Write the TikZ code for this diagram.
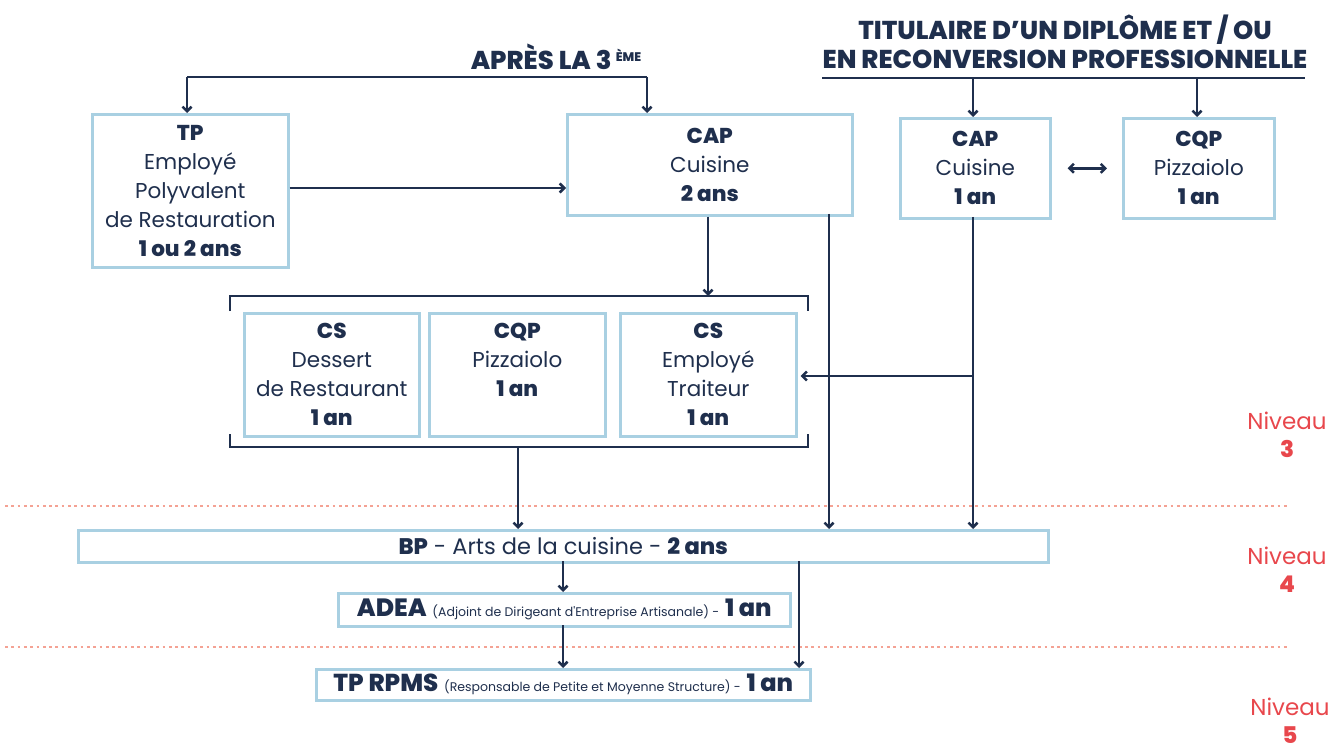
\documentclass[tikz,border=0pt]{standalone}
\usepackage{fontspec}
\setmainfont{Poppins}[BoldFont={Poppins ExtraBold}]
\usetikzlibrary{arrows.meta}
\definecolor{navy}{HTML}{1F2F4D}
\definecolor{boxblue}{HTML}{A9D0E2}
\definecolor{nivred}{HTML}{E8474C}
\definecolor{dotred}{HTML}{F4A294}
\begin{document}
\begin{tikzpicture}[x=1pt,y=-1pt,
  box/.style={draw=boxblue, line width=2.6pt, fill=white, inner sep=0pt, align=center,
    text=navy, anchor=north west, font=\fontsize{21.5}{29}\selectfont},
  wire/.style={draw=navy, line width=2.5pt},
  conn/.style={wire, -{Straight Barb[length=4.5pt,width=9pt]}},
  biconn/.style={wire, {Straight Barb[length=4.5pt,width=9pt]}-{Straight Barb[length=4.5pt,width=9pt]}},
  head/.style={text=navy, align=center, font=\fontsize{25.8}{29}\selectfont\bfseries},
  niv/.style={text=nivred, align=center, font=\fontsize{23}{28}\selectfont},
  dots/.style={draw=dotred, line width=2.7pt, dash pattern=on 2.7pt off 3.6pt}
]
\useasboundingbox (0,0) rectangle (1330,751);

% level separators
\draw[dots] (5,506) -- (1290,506);
\draw[dots] (5,647) -- (1290,647);

% headers
\node[head] (h1) at (556,57) {APRÈS LA 3\,\raisebox{0.6ex}{\fontsize{12.5}{12}\selectfont ÈME}};
\node[head] (h2) at (1065,42) {TITULAIRE D’UN DIPLÔME ET / OU\\EN RECONVERSION PROFESSIONNELLE};

% boxes
\node[box, minimum width=196pt, minimum height=153pt] (tp) at (91,113)
  {\textbf{TP}\\Employé\\Polyvalent\\de Restauration\\\textbf{1 ou 2 ans}};
\node[box, minimum width=285pt, minimum height=101pt] (cap2) at (566,113)
  {\textbf{CAP}\\Cuisine\\\textbf{2 ans}};
\node[box, minimum width=150pt, minimum height=100pt] (cap1) at (899,117)
  {\textbf{CAP}\\Cuisine\\\textbf{1 an}};
\node[box, minimum width=151pt, minimum height=100pt] (cqp1) at (1122,117)
  {\textbf{CQP}\\Pizzaiolo\\\textbf{1 an}};

\node[box, minimum width=175pt, minimum height=123pt] (csd) at (243,312)
  {\textbf{CS}\\Dessert\\de Restaurant\\\textbf{1 an}};
\node[box, minimum width=176pt, minimum height=123pt] (cqp) at (428,312)
  {\textbf{CQP}\\Pizzaiolo\\\textbf{1 an}\\\mbox{}};
\node[box, minimum width=176pt, minimum height=123pt] (cse) at (619,312)
  {\textbf{CS}\\Employé\\Traiteur\\\textbf{1 an}};

\node[box, minimum width=970pt, minimum height=32pt, font=\fontsize{22.5}{29}\selectfont] (bp) at (77,529)
  {\textbf{BP} - Arts de la cuisine - \textbf{2 ans}};
\node[box, minimum width=452pt, minimum height=33pt] (adea) at (337,592)
  {{\fontsize{25}{29}\selectfont\textbf{ADEA}} {\fontsize{12.5}{12}\selectfont (Adjoint de Dirigeant d\textquotesingle Entreprise Artisanale) -} {\fontsize{24}{29}\selectfont\textbf{1 an}}};
\node[box, minimum width=494pt, minimum height=31pt] (rpms) at (315,668)
  {{\fontsize{24.5}{29}\selectfont\textbf{TP RPMS}} {\fontsize{12.5}{12}\selectfont (Responsable de Petite et Moyenne Structure) -} {\fontsize{24}{29}\selectfont\textbf{1 an}}};

% niveau labels
\node[niv] (n3) at (1287,435) {Niveau\\\textbf{3}};
\node[niv] (n4) at (1287,570) {Niveau\\\textbf{4}};
\node[niv] (n5) at (1290,721) {Niveau\\\textbf{5}};

% header connectors
\coordinate (ha) at (187,77);
\coordinate (hb) at (647,77);
\draw[wire] (ha) -- (hb);
\draw[conn] (ha) -- (ha |- tp.north);
\draw[conn] (hb) -- (hb |- cap2.north);

\coordinate (hc) at (822,78);
\coordinate (hd) at (1305,78);
\draw[wire] (hc) -- (hd);
\coordinate (hx) at (973,78);
\coordinate (hy) at (1197,78);
\draw[conn] (hx) -- (hx |- cap1.north);
\draw[conn] (hy) -- (hy |- cqp1.north);

% side arrows
\draw[conn] (tp.east |- 0,188) -- (cap2.west |- 0,188);
\draw[biconn] ([xshift=16pt]cap1.east) -- ([xshift=-15pt]cqp1.west);

% bracket
\coordinate (bt) at (708,296);
\draw[wire] (230,311) -- (230,296) -- (808,296) -- (808,311);
\draw[wire] (230,434) -- (230,447) -- (808,447) -- (808,434);
\draw[conn] (cap2.south -| bt) -- (bt);
\coordinate (bb) at (518,447);
\draw[conn] (bb) -- (bb |- bp.north);

% long verticals
\coordinate (v1) at (829,214);
\draw[conn] (v1) -- (v1 |- bp.north);
\coordinate (v2) at (973,217);
\draw[conn] (v2) -- (v2 |- bp.north);
\coordinate (br) at (973,376);
\draw[conn] (br) -- ([xshift=3pt]cse.east |- br);

% lower connectors
\coordinate (l1) at (563,561);
\draw[conn] (l1) -- (l1 |- adea.north);
\coordinate (l2) at (563,625);
\draw[conn] (l2) -- (l2 |- rpms.north);
\coordinate (l3) at (799,561);
\draw[conn] (l3) -- (l3 |- rpms.north);
\end{tikzpicture}
\end{document}
